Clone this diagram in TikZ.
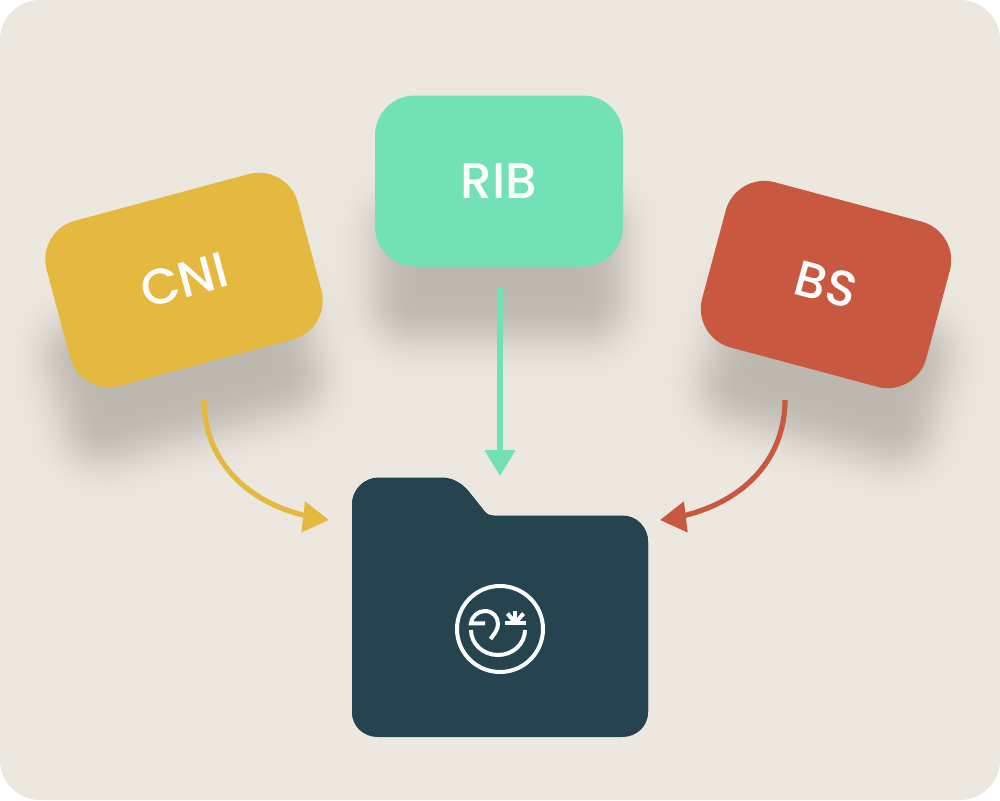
\documentclass[tikz,border=0pt]{standalone}
\usepackage{fontspec}
\setmainfont{Poppins}[UprightFont=* Medium]
\usetikzlibrary{arrows.meta,bending}
\definecolor{bgc}{HTML}{FFFFFF}
\definecolor{panelc}{HTML}{ECE8E0}
\definecolor{yel}{HTML}{E5B83F}
\definecolor{grn}{HTML}{72E1B6}
\definecolor{rd}{HTML}{C95840}
\definecolor{fold}{HTML}{25444F}
\definecolor{rim}{HTML}{1C2B30}
\tikzset{
  card/.style={rounded corners=40pt,minimum height=171pt,inner sep=0pt,text=white,font=\fontsize{50}{50}\selectfont},
  conn/.style={line width=5.2pt,-{Triangle[length=26pt,width=30pt,flex=0]}},
  logo/.style={white,line width=4pt},
}
% #1 centre x, #2 centre y, #3 rotation, #4 half width
\newcommand{\softshadow}[4]{%
  \foreach \k/\aa in {-44/0.0042,-38/0.0042,-33/0.0042,-29/0.0042,-25.2/0.0078,-21/0.0078,-17.7/0.0078,-14.8/0.0078,-12.2/0.0078,-9.8/0.0078,-7.5/0.0078,-5.3/0.0078,-3.1/0.0078,-1/0.0078,1/0.0078,3.1/0.0078,5.3/0.0078,7.5/0.0078,9.8/0.0078,12.2/0.0078,14.8/0.0078,17.7/0.0078,21/0.0078,25.2/0.0078,29/0.0042,33/0.0042,38/0.0042,44/0.0042}{%
    \pgfmathsetmacro{\hw}{#4+\k}%
    \pgfmathsetmacro{\hh}{72+\k}%
    \pgfmathsetmacro{\rr}{max(40+\k,14)}%
    \fill[black,fill opacity=\aa,rounded corners=\rr pt,shift={(#1,#2+86)},rotate=#3]
      (-\hw,-\hh) rectangle (\hw,\hh);
  }%
}
\begin{document}
\begin{tikzpicture}[x=1pt,y=-1pt]
\useasboundingbox (0,0) rectangle (1000,800);
\fill[bgc] (0,0) rectangle (1000,800);
\fill[panelc,rounded corners=40pt] (0,0) rectangle (1000,800);
\softshadow{184}{280}{15}{130}
\softshadow{499}{181}{0}{124}
\softshadow{826}{284.5}{-15}{116}
\node[card,fill=yel,rotate=15,minimum width=260pt] (cni) at (184,280) {CNI};
\node[card,fill=grn,minimum width=248pt] (rib) at (499,181) {RIB};
\node[card,fill=rd,rotate=-15,minimum width=232pt] (bs) at (826,284.5) {BS};
% folder
\def\folderpath{(352,505) .. controls (352,490) and (364,478) .. (379,478)
  -- (441,478) .. controls (452,478) and (461,483) .. (468,491)
  -- (484,511) .. controls (487,515) and (490,516) .. (494,516)
  -- (622,516) .. controls (637,516) and (648,528) .. (648,542)
  -- (648,712) .. controls (648,726) and (637,737) .. (622,737)
  -- (378,737) .. controls (363,737) and (352,726) .. (352,712) -- cycle}
\fill[rim,shift={(0,-0.5)}] \folderpath;
\fill[fold] \folderpath;
% logo
\coordinate (lc) at (500,629);
\draw[logo] (lc) circle (43);
\draw[logo] (471,630) arc[start angle=180,end angle=0,x radius=27,y radius=25];
\draw[logo] (485,623.3) -- (471,623.3) .. controls (472,616) and (478,611) .. (485,611)
  .. controls (493,611) and (498,617) .. (498,624) .. controls (498,630) and (494,634) .. (490.5,639);
\draw[logo] (505,623.3) -- (526,623.3);
\draw[logo] (515.3,623) -- (515.3,611);
\draw[logo] (515.3,623) -- (507.5,613.5);
\draw[logo] (515.3,623) -- (523.5,613.5);
% connectors
\coordinate (ya) at (204,400);
\coordinate (yb) at (329,520);
\coordinate (ga) at (500,288);
\coordinate (gb) at (500,476);
\coordinate (ra) at (785,400);
\coordinate (rb) at (660,520);
\draw[conn,yel] (ya) .. controls (204,465) and (254,511) .. (yb);
\draw[conn,grn] (ga) -- (gb);
\draw[conn,rd] (ra) .. controls (785,465) and (735,511) .. (rb);
\end{tikzpicture}
\end{document}
